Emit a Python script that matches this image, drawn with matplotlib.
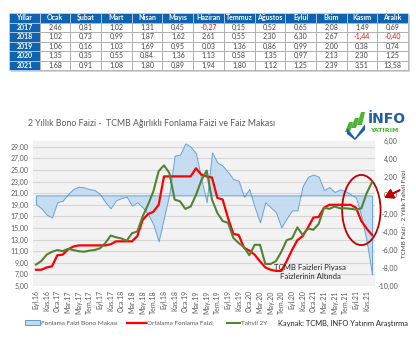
from __future__ import annotations

import matplotlib

matplotlib.use("Agg")
import matplotlib.pyplot as plt  # noqa: E402,I001
from matplotlib.lines import Line2D  # noqa: E402
from matplotlib.patches import Ellipse, Patch, Polygon, Rectangle  # noqa: E402

W, H = 416, 342
FONT = ["Liberation Sans Narrow", "Lato", "DejaVu Sans"]
GRAY_TEXT = "#595959"
HEADER_BLUE = "#0f63b0"
RED = "#ff0000"
GREEN = "#548235"
AREA_FILL = "#c2daf0"
AREA_EDGE = "#5b9bd5"

TABLE_HEADER = ["Yıllar", "Ocak", "Şubat", "Mart", "Nisan", "Mayıs", "Haziran",
                "Temmuz", "Ağustos", "Eylül", "Ekim", "Kasım", "Aralık"]
TABLE_YEARS = ["2017", "2018", "2019", "2020", "2021"]
TABLE_2017 = [2.46, 0.81, 1.02, 1.31, 0.45, -0.27, 0.15, 0.52, 0.65, 2.08, 1.49, 0.69]
TABLE_2018 = [1.02, 0.73, 0.99, 1.87, 1.62, 2.61, 0.55, 2.30, 6.30, 2.67, -1.44, -0.40]
TABLE_2019 = [1.06, 0.16, 1.03, 1.69, 0.95, 0.03, 1.36, 0.86, 0.99, 2.00, 0.38, 0.74]
TABLE_2020 = [1.35, 0.35, 0.55, 0.84, 1.36, 1.13, 0.58, 1.35, 0.97, 2.13, 2.30, 1.25]
TABLE_2021 = [1.68, 0.91, 1.08, 1.80, 0.89, 1.94, 1.80, 1.12, 1.25, 2.39, 3.51, 13.58]

# monthly, Eyl.16 .. Ara.21
FUNDING_RATE = [7.8, 7.8, 8.2, 8.4, 10.3, 10.4, 11.3, 11.8, 12.0, 12.0, 12.0, 12.0,
                12.0, 12.0, 12.2, 12.7, 12.7, 12.7, 12.7, 13.6, 16.4, 17.4, 17.8, 19.0,
                23.9, 23.9, 23.9, 23.9, 23.9, 23.9, 25.3, 24.2, 23.9, 23.7, 20.2, 19.9,
                16.7, 14.0, 13.8, 11.6, 11.1, 10.4, 9.25, 8.2, 7.8, 7.6, 7.6, 9.3,
                11.2, 12.9, 13.6, 15.1, 16.8, 16.9, 18.5, 19.0, 19.0, 19.0, 19.0, 19.0,
                18.5, 16.2, 14.9, 13.8]
BOND_2Y = [8.7, 9.3, 10.4, 10.9, 11.2, 11.0, 11.4, 11.2, 11.0, 10.9, 11.1, 11.2,
           11.5, 12.4, 13.7, 13.4, 13.2, 12.8, 14.1, 14.4, 17.0, 19.0, 21.3, 24.8,
           25.8, 24.5, 19.9, 19.6, 18.3, 18.7, 20.7, 23.2, 24.9, 19.9, 17.6, 16.2,
           15.9, 13.3, 12.4, 11.7, 10.3, 12.1, 12.1, 8.8, 8.8, 9.3, 10.9, 12.9,
           13.2, 15.1, 13.8, 14.9, 14.7, 15.7, 18.5, 18.3, 18.7, 18.4, 18.4, 18.3,
           18.2, 18.4, 21.0, 22.9]
SPREAD = [-0.96, -1.43, -2.13, -2.43, -0.76, -0.59, 0.14, 0.70, 0.96, 0.88, 0.70, 0.59,
          0.14, -0.76, -1.43, -0.55, -0.30, -0.15, -1.14, -0.76, -1.32, -2.06, -3.2, -5.08,
          -2.43, 0.14, 4.38, 4.49, 5.74, 5.37, 4.64, 1.8, -0.76, 4.75, 3.64, 3.27,
          2.58, 1.8, 1.62, -0.15, 0.70, -1.32, -2.98, -0.76, -1.32, -1.88, -3.55, -2.55,
          -1.66, -1.66, 1.03, 2.06, 2.3, 2.06, 0.59, 0.92, 0.37, 0.66, 0.48, 0.11,
          -0.25, -2.28, -5.04, -8.72]
TICK_LABELS = ["Eyl.16", "Kas.16", "Oca.17", "Mar.17", "May.17", "Tem.17", "Eyl.17", "Kas.17",
               "Oca.18", "Mar.18", "May.18", "Tem.18", "Eyl.18", "Kas.18", "Oca.19", "Mar.19",
               "May.19", "Tem.19", "Eyl.19", "Kas.19", "Oca.20", "Mar.20", "May.20", "Tem.20",
               "Eyl.20", "Kas.20", "Oca.21", "Mar.21", "May.21", "Tem.21", "Eyl.21", "Kas.21"]
LEFT_TICKS = list(range(5, 30, 2))
RIGHT_TICKS = list(range(-10, 7, 2))


def px_rect(x0: float, y0: float, x1: float, y1: float) -> list[float]:
    return [x0 / W, 1 - y1 / H, (x1 - x0) / W, (y1 - y0) / H]


def px(x: float, y: float) -> tuple[float, float]:
    return x / W, 1 - y / H


def _fmt(value: float) -> str:
    return f"{value:.2f}".replace(".", ",")


def draw_table(fig: plt.Figure) -> None:
    rows = [TABLE_2017, TABLE_2018, TABLE_2019, TABLE_2020, TABLE_2021]
    shadow = Rectangle(px(11, 72), 399 / W, 57 / H, transform=fig.transFigure,
                       facecolor="#d4d4d4", edgecolor="none", zorder=-5)
    fig.patches.append(shadow)
    ax = fig.add_axes(px_rect(9, 13, 408, 70))
    ax.set_axis_off()
    cell_text = [[year] + [_fmt(v) for v in row] for year, row in zip(TABLE_YEARS, rows)]
    tbl = ax.table(cellText=cell_text, colLabels=TABLE_HEADER, cellLoc="center",
                   bbox=[0, 0, 1, 1])
    tbl.auto_set_font_size(False)
    tbl.set_fontsize(5)
    for (r, c), cell in tbl.get_celld().items():
        cell.set_linewidth(0.5)
        txt = cell.get_text()
        txt.set_fontfamily(FONT)
        if r == 0 or c == 0:
            cell.set_facecolor(HEADER_BLUE)
            cell.set_edgecolor("#cfd8e3")
            txt.set_color("white")
            txt.set_fontweight("bold")
        else:
            cell.set_facecolor("white")
            cell.set_edgecolor("#a0a0a0")
            txt.set_color(RED if rows[r - 1][c - 1] < 0 else "#404040")


def draw_logo(fig: plt.Figure) -> None:
    ax = fig.add_axes(px_rect(343, 108, 414, 140))
    ax.set_xlim(0, 71)
    ax.set_ylim(32, 0)
    ax.set_axis_off()
    bars = [
        [(2, 24), (6, 14), (10, 14), (7, 24)],
        [(8, 20), (12, 10), (16, 10), (13, 20)],
        [(14, 17), (18, 4), (22, 4), (19, 17)],
    ]
    for pts in bars:
        ax.add_patch(Polygon(pts, closed=True, facecolor="#4cb531", edgecolor="none"))
    ax.add_patch(Polygon([(4, 20), (12, 30), (22, 16), (22, 22), (12, 32), (4, 26)],
                         closed=True, facecolor="#1f5fa8", edgecolor="none"))
    ax.text(25, 11, "İNFO", fontsize=10, fontweight="bold", color="#1f5fa8",
            va="center", ha="left", family=["DejaVu Sans"])
    ax.text(27, 22, "YATIRIM", fontsize=4.5, fontweight="bold", color="#4cb531",
            va="center", ha="left", family=["DejaVu Sans"])


def draw_legend(fig: plt.Figure) -> None:
    items = [
        (25, Patch(facecolor=AREA_FILL, edgecolor=AREA_EDGE, linewidth=0.7),
         "Fonlama Faizi Bono Makası", 2.3),
        (127, Line2D([], [], color=RED, linewidth=1.6), "Ortalama Fonlama Faizi", 3.0),
        (227, Line2D([], [], color=GREEN, linewidth=1.5), "Tahvil 2Y", 2.0),
    ]
    for x0, handle, label, length in items:
        fig.legend([handle], [label], loc="center left", bbox_to_anchor=px(x0, 323),
                   frameon=False, fontsize=4.6, handlelength=length, handleheight=0.7,
                   handletextpad=0.15, borderpad=0, borderaxespad=0,
                   labelcolor=GRAY_TEXT)
    fig.text(*px(278, 323), "Kaynak: TCMB, INFO Yatırım Araştırma", fontsize=5.4,
             ha="left", va="center", color="#262626")


def draw_chart(fig: plt.Figure) -> None:
    rect = px_rect(33, 141, 375, 286)
    x = list(range(len(SPREAD)))

    ax = fig.add_axes(rect)
    ax.set_facecolor("#f2f2f2")
    ax.set_xlim(-0.56, len(SPREAD) - 0.44)
    ax.set_ylim(5, 30)
    ax.set_yticks(LEFT_TICKS)
    ax.set_yticklabels([_fmt(v) for v in LEFT_TICKS])
    ax.set_xticks(x[::2])
    ax.set_xticklabels(TICK_LABELS, rotation=90)
    ax.grid(True, axis="y", color="#d6d6d6", linewidth=0.8)
    ax.set_axisbelow(True)
    ax.tick_params(length=0, labelsize=5, colors=GRAY_TEXT)
    ax.tick_params(axis="y", pad=3)
    ax.tick_params(axis="x", pad=3)
    for spine in ax.spines.values():
        spine.set_visible(False)

    ax2 = ax.twinx()
    ax2.set_ylim(-10, 6)
    ax2.set_yticks(RIGHT_TICKS)
    ax2.set_yticklabels([_fmt(v) for v in RIGHT_TICKS])
    ax2.tick_params(length=0, labelsize=5, colors=GRAY_TEXT, pad=16.5)
    for label in ax2.get_yticklabels():
        label.set_horizontalalignment("right")
    for spine in ax2.spines.values():
        spine.set_visible(False)
    ax2.fill_between(x, SPREAD, 0, facecolor=AREA_FILL, edgecolor=AREA_EDGE,
                     linewidth=0.7, alpha=0.9)

    ax3 = fig.add_axes(rect, sharex=ax, sharey=ax)
    ax3.set_axis_off()
    ax3.patch.set_visible(False)
    ax3.plot(x, FUNDING_RATE, color=RED, linewidth=1.6, solid_joinstyle="round")
    ax3.plot(x, BOND_2Y, color=GREEN, linewidth=1.5, solid_joinstyle="round")

    ax3.add_patch(Ellipse((61.0, 18.1), 7.2, 12.1, facecolor="none",
                          edgecolor="#c00000", linewidth=1.3, clip_on=False))
    ax3.text(51.4, 7.4, "TCMB Faizleri Piyasa\nFaizlerinin Altında", fontsize=5.6,
             ha="center", va="center", color="#262626", linespacing=1.3)

    fig.add_artist(plt.annotate(
        "", xy=px(382, 199), xytext=px(402, 189), xycoords="figure fraction",
        textcoords="figure fraction",
        arrowprops=dict(arrowstyle="-|>,head_length=0.5,head_width=0.3",
                        color="#c00000", linewidth=1.3),
    ))

    fig.text(*px(404, 214), "TCMB Faizi - 2 Yıllık Tahvil Faizi", rotation=90,
             fontsize=4.5, ha="center", va="center", color="#404040")


def main() -> None:
    plt.rcParams["font.family"] = FONT
    fig = plt.figure(figsize=(W / 100, H / 100), dpi=100)
    fig.patch.set_facecolor("white")
    draw_table(fig)
    fig.text(*px(28, 124), "2 Yıllık Bono Faizi -  TCMB Ağırlıklı Fonlama Faizi ve Faiz Makası",
             fontsize=6.3, color=GRAY_TEXT, ha="left", va="center")
    draw_logo(fig)
    draw_chart(fig)
    draw_legend(fig)
    fig.savefig("out.png", dpi=100)
    plt.close(fig)


if __name__ == "__main__":
    main()
